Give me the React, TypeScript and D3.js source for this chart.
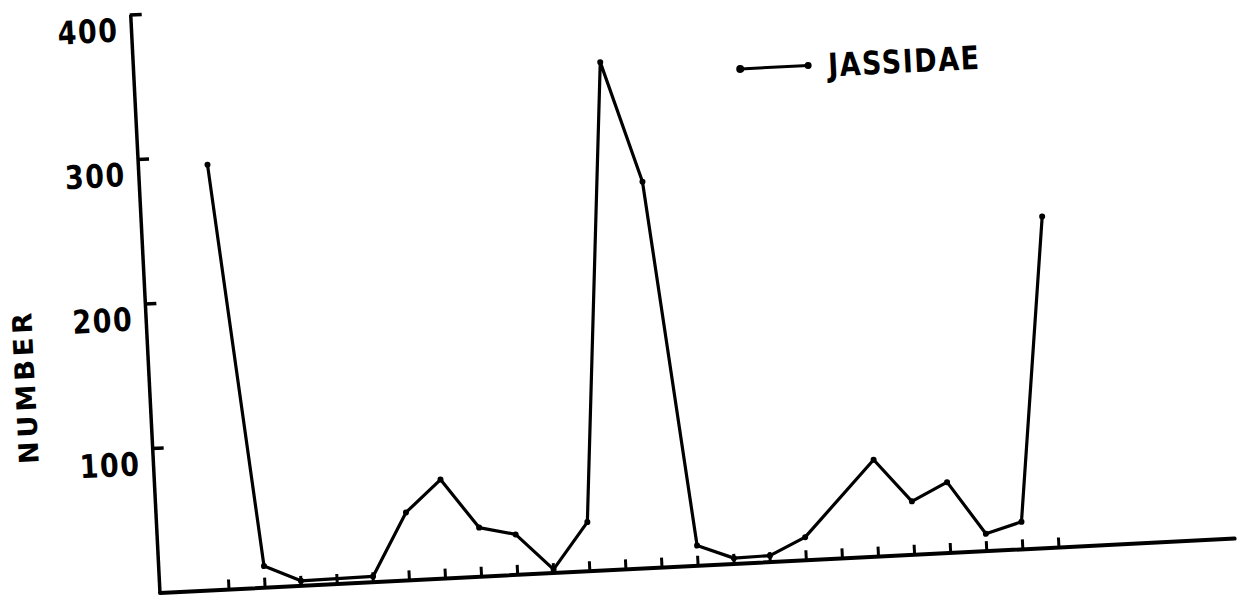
import React from "react";
import * as d3 from "d3";

// Weekly catch counts; null = week with no recorded sample
const slots: number[] = d3.range(24);
const jassidae: (number | null)[] = [
  294, 15, 3.5, null, 4, 47, 68.5, 34, 28, 2.5, 34, 351,
  267, 14, 4, 4.5, 16, null, 67, 37, 49, 12, 19, 229,
];
const yTicks: number[] = [100, 200, 300, 400];
const seriesName = "JASSIDAE";
const yTitle = "NUMBER";

const W = 1241;
const H = 597;
const origin = { x: 160, y: 593 };
const tilt = -2.9; // the plotted sheet sits slightly rotated
const axisLen = 1076;
const plotH = 578.8;

export default function App() {
  const x = d3.scaleLinear().domain([0, 23]).range([69.1, 900.1]);
  const y = d3.scaleLinear().domain([0, 400]).range([0, -plotH]);

  const pts = slots
    .map((i) => ({ i, v: jassidae[i] }))
    .filter((d) => d.v !== null) as { i: number; v: number }[];

  const line = d3
    .line<{ i: number; v: number }>()
    .x((d) => x(d.i))
    .y((d) => y(d.v));

  const font = "'DejaVu Sans', Verdana, sans-serif";

  return (
    <svg
      width={W}
      height={H}
      style={{ position: "absolute", left: 0, top: 0, background: "#fff" }}
    >
      <g transform={`translate(${origin.x},${origin.y}) rotate(${tilt})`}>
        {/* axes */}
        <line x1={0} y1={0} x2={axisLen} y2={0} stroke="#000" strokeWidth={4} strokeLinecap="round" />
        <line x1={0} y1={0} x2={0} y2={-plotH} stroke="#000" strokeWidth={3.5} />

        {/* x ticks */}
        {slots.map((i) => (
          <line key={i} x1={x(i)} y1={0} x2={x(i)} y2={-10} stroke="#000" strokeWidth={3} />
        ))}

        {/* y ticks and labels */}
        {yTicks.map((t) => (
          <g key={t}>
            <line x1={-1} y1={y(t)} x2={11} y2={y(t)} stroke="#000" strokeWidth={3.5} />
            <text
              transform={`translate(-13,${y(t) + 26}) scale(1,1.2)`}
              textAnchor="end"
              fontFamily={font}
              fontWeight="bold"
              fontSize={27}
              letterSpacing={1.5}
            >
              {t}
            </text>
          </g>
        ))}

        <text
          transform={`translate(-122,-213) rotate(-90)`}
          textAnchor="middle"
          dominantBaseline="middle"
          fontFamily={font}
          fontWeight="bold"
          fontSize={27}
          letterSpacing={4}
        >
          {yTitle}
        </text>

        {/* series */}
        <path d={line(pts) ?? ""} fill="none" stroke="#000" strokeWidth={3.2} strokeLinejoin="round" />
        {pts.map((d) => (
          <circle key={d.i} cx={x(d.i)} cy={y(d.v)} r={3} fill="#000" />
        ))}

        {/* legend */}
        <g transform="translate(606,-494)">
          <line x1={0} y1={0} x2={68} y2={0} stroke="#000" strokeWidth={3} />
          <circle cx={0} cy={0} r={4} fill="#000" />
          <circle cx={68} cy={0} r={3.5} fill="#000" />
          <text
            transform="translate(88,12) scale(1,1.2)"
            fontFamily={font}
            fontWeight="bold"
            fontSize={27}
            letterSpacing={1.5}
          >
            {seriesName}
          </text>
        </g>
      </g>
    </svg>
  );
}
